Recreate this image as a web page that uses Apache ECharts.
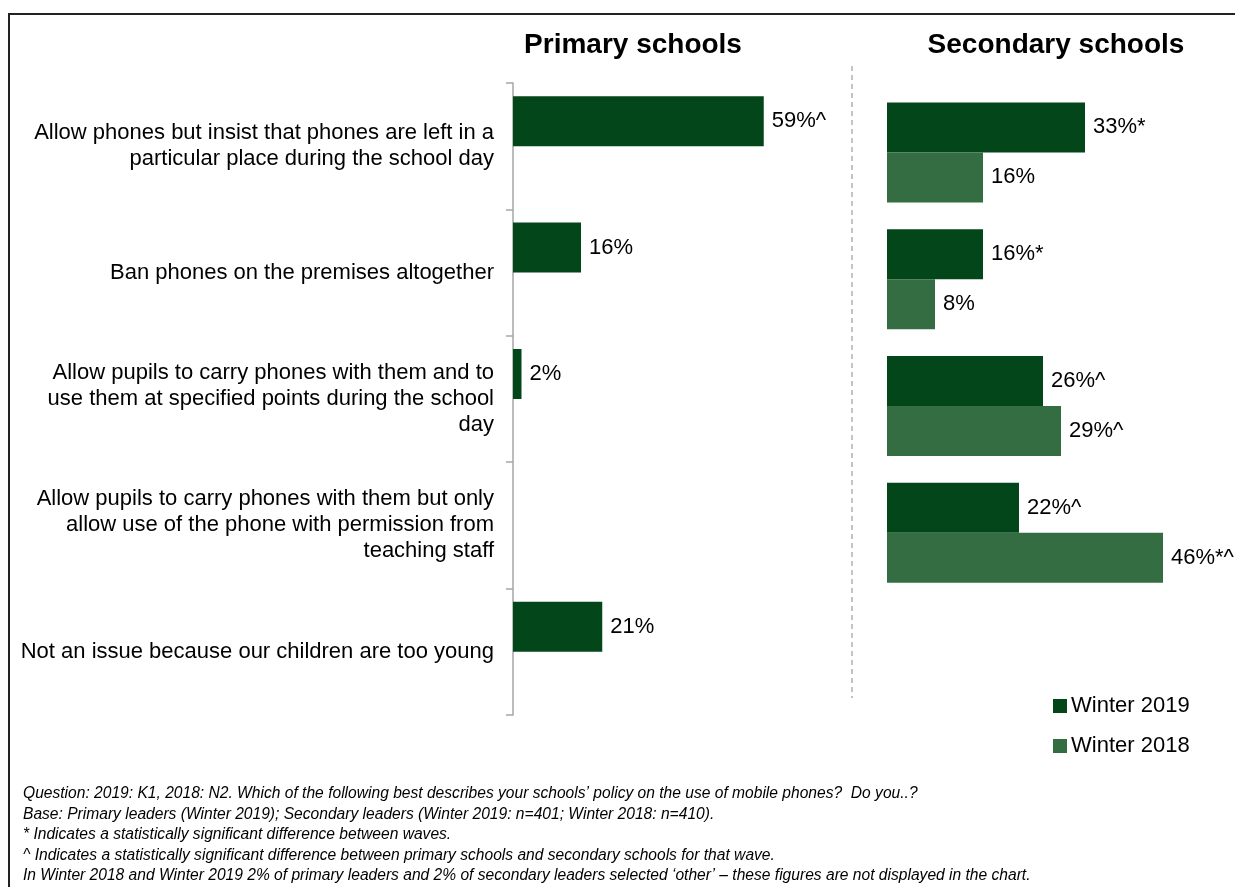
<!DOCTYPE html>
<html>
<head>
<meta charset="utf-8">
<title>School mobile phone policy</title>
<script src="https://cdn.jsdelivr.net/npm/echarts@6/dist/echarts.min.js"></script>
<style>
  html, body { margin: 0; padding: 0; background: #fff; }
  #chart { width: 1235px; height: 887px; }
</style>
</head>
<body>
<div id="chart"></div>
<script>
// Policy options (wrapped as they appear on the axis)
const categories = [
  'Allow phones but insist that phones are left in a\nparticular place during the school day',
  'Ban phones on the premises altogether',
  'Allow pupils to carry phones with them and to\nuse them at specified points during the school\nday',
  'Allow pupils to carry phones with them but only\nallow use of the phone with permission from\nteaching staff',
  'Not an issue because our children are too young'
];

const seriesNames = ['Winter 2019', 'Winter 2018'];

// Primary schools (%); no Winter 2018 wave for primary
const primary2019 = [59, 16, 2, null, 21];
const primary2019Marks = ['^', '', '', '', ''];
const primary2018 = [null, null, null, null, null];
const primary2018Marks = ['', '', '', '', ''];

// Secondary schools (%)
const secondary2019 = [33, 16, 26, 22, null];
const secondary2019Marks = ['*', '*', '^', '^', ''];
const secondary2018 = [16, 8, 29, 46, null];
const secondary2018Marks = ['', '', '^', '*^', ''];

const panelTitles = ['Primary schools', 'Secondary schools'];

const footnotes = [
  'Question: 2019: K1, 2018: N2. Which of the following best describes your schools\u2019 policy on the use of mobile phones?  Do you..?',
  'Base: Primary leaders (Winter 2019); Secondary leaders (Winter 2019: n=401; Winter 2018: n=410).',
  '* Indicates a statistically significant difference between waves.',
  '^ Indicates a statistically significant difference between primary schools and secondary schools for that wave.',
  'In Winter 2018 and Winter 2019 2% of primary leaders and 2% of secondary leaders selected \u2018other\u2019 \u2013 these figures are not displayed in the chart.'
];

const FONT = '"Liberation Sans", Arial, Helvetica, sans-serif';
const DARK = '#03461a';
const LIGHT = '#356d43';

function barSeries(name, data, marks, axisIdx, color) {
  return {
    name: name,
    type: 'bar',
    xAxisIndex: axisIdx,
    yAxisIndex: axisIdx,
    data: data,
    barWidth: 50,
    barGap: '0%',
    itemStyle: { color: color },
    label: {
      show: true,
      position: 'right',
      distance: 8,
      fontFamily: FONT,
      fontSize: 22,
      color: '#000',
      formatter: p => p.value + '%' + marks[p.dataIndex]
    },
    emphasis: { disabled: true }
  };
}

const graphics = [
  // frame
  {
    type: 'polyline',
    shape: { points: [[9, 887], [9, 14], [1235, 14]] },
    style: { stroke: '#222', lineWidth: 2, fill: null },
    silent: true
  },
  // divider between panels
  {
    type: 'line',
    shape: { x1: 852, y1: 66, x2: 852, y2: 698 },
    style: { stroke: '#888', lineWidth: 1, lineDash: [5, 4] },
    silent: true
  },
  {
    type: 'text', x: 633, y: 45,
    style: { text: panelTitles[0], fontFamily: FONT, fontSize: 28, fontWeight: 'bold', fill: '#000', align: 'center', verticalAlign: 'middle' }
  },
  {
    type: 'text', x: 1056, y: 45,
    style: { text: panelTitles[1], fontFamily: FONT, fontSize: 28, fontWeight: 'bold', fill: '#000', align: 'center', verticalAlign: 'middle' }
  }
];

footnotes.forEach((t, i) => {
  graphics.push({
    type: 'text', x: 23, y: 794 + i * 20.5,
    style: { text: t, fontFamily: FONT, fontSize: 15.6, fontStyle: 'italic', fill: '#000', align: 'left', verticalAlign: 'middle' }
  });
});

const chart = echarts.init(document.getElementById('chart'), null, { renderer: 'canvas' });

chart.setOption({
  animation: false,
  backgroundColor: '#fff',
  textStyle: { fontFamily: FONT },
  grid: [
    { left: 513, top: 83, width: 255, height: 632 },
    { left: 887, top: 89, width: 300, height: 634 }
  ],
  xAxis: [
    { gridIndex: 0, type: 'value', min: 0, max: 60, show: false },
    { gridIndex: 1, type: 'value', min: 0, max: 50, show: false }
  ],
  yAxis: [
    {
      gridIndex: 0,
      type: 'category',
      inverse: true,
      data: categories,
      axisLine: { show: true, lineStyle: { color: '#a6a6a6', width: 1.5 } },
      axisTick: { show: true, length: 7, lineStyle: { color: '#a6a6a6', width: 1.5 } },
      axisLabel: {
        margin: 19,
        fontFamily: FONT,
        fontSize: 22,
        lineHeight: 26,
        color: '#000',
        align: 'right'
      },
      splitLine: { show: false }
    },
    {
      gridIndex: 1,
      type: 'category',
      inverse: true,
      data: categories,
      show: false
    }
  ],
  legend: {
    data: seriesNames,
    orient: 'vertical',
    left: 1053,
    top: 695,
    padding: 0,
    itemWidth: 14,
    itemHeight: 14,
    itemGap: 18,
    icon: 'rect',
    selectedMode: false,
    textStyle: { fontFamily: FONT, fontSize: 22, lineHeight: 22, color: '#000', padding: [0, 0, 0, -1] }
  },
  series: [
    barSeries(seriesNames[0], primary2019, primary2019Marks, 0, DARK),
    barSeries(seriesNames[1], primary2018, primary2018Marks, 0, LIGHT),
    barSeries(seriesNames[0], secondary2019, secondary2019Marks, 1, DARK),
    barSeries(seriesNames[1], secondary2018, secondary2018Marks, 1, LIGHT)
  ],
  graphic: graphics
});
</script>
</body>
</html>
